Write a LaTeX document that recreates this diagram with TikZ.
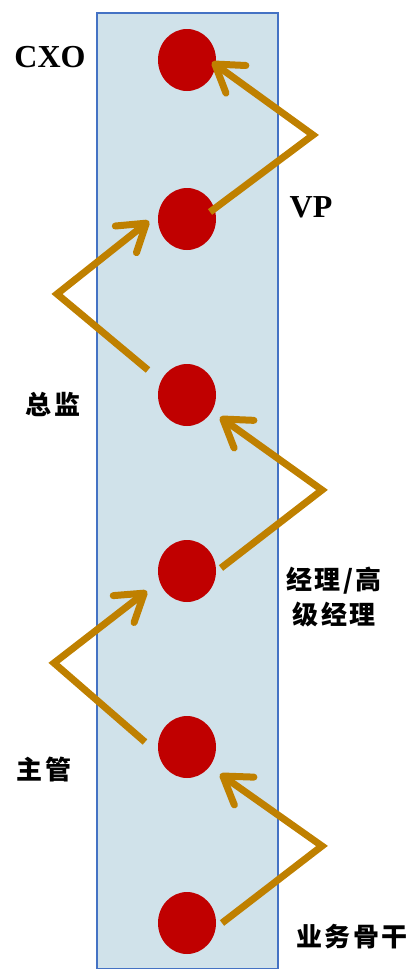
\documentclass[tikz,border=0pt]{standalone}
\usepackage{fontspec}
\setmainfont{Liberation Serif}
\newfontfamily\cjk[LetterSpace=8]{Noto Sans CJK SC}
\usetikzlibrary{arrows.meta,shapes.geometric,calc}
\definecolor{gold}{HTML}{BF8000}
\definecolor{dotred}{HTML}{C00000}
\definecolor{barfill}{HTML}{D0E2EA}
\definecolor{barline}{HTML}{4472C4}
\begin{document}
\begin{tikzpicture}[x=1pt,y=-1pt,
  dot/.style={ellipse,fill=dotred,minimum width=58pt,minimum height=62pt,inner sep=0pt},
  arr/.style={draw=gold,line width=7pt,line join=miter,-{Straight Barb[length=26pt,width=34pt,round]}},
  lat/.style={font=\fontsize{32}{36}\selectfont\bfseries,inner sep=0pt},
  zh/.style={font=\fontsize{26}{35}\selectfont\cjk\bfseries,align=center,inner sep=0pt}]
\useasboundingbox (0,0) rectangle (413,969);
\node[draw=barline,fill=barfill,line width=1.5pt,minimum width=181pt,minimum height=956pt,anchor=north west,inner sep=0pt] (bar) at (96,12) {};
\node[dot] (c1) at (187,60) {};
\node[dot] (c2) at (187,219) {};
\node[dot] (c3) at (187,395) {};
\node[dot] (c4) at (187,571) {};
\node[dot] (c5) at (187,747) {};
\node[dot] (c6) at (187,923) {};
\node[lat] (l1) at (50,57) {CXO};
\node[lat] (l2) at (311,207) {VP};
\node[zh] (l3) at (53,404) {总监};
\node[zh] (l4) at (334,597) {经理/高\\级经理};
\node[zh] (l5) at (44,770) {主管};
\node[zh] (l6) at (352,937) {业务骨干};
\coordinate (k1) at (313,135);
\coordinate (k2) at (57,294);
\coordinate (k3) at (322,490);
\coordinate (k4) at (54,663);
\coordinate (k5) at (322,846);
\draw[arr] ($(c2)+(23,-7)$) -- (k1) -- ($(c1)+(25,2)$);
\draw[arr] ($(c3)+(-39,-25)$) -- (k2) -- ($(c2)+(-38,2)$);
\draw[arr] ($(c4)+(34,-3)$) -- (k3) -- ($(c3)+(33,22)$);
\draw[arr] ($(c5)+(-42,-5)$) -- (k4) -- ($(c4)+(-40,20)$);
\draw[arr] ($(c6)+(35,0)$) -- (k5) -- ($(c5)+(33,27)$);
\end{tikzpicture}
\end{document}
